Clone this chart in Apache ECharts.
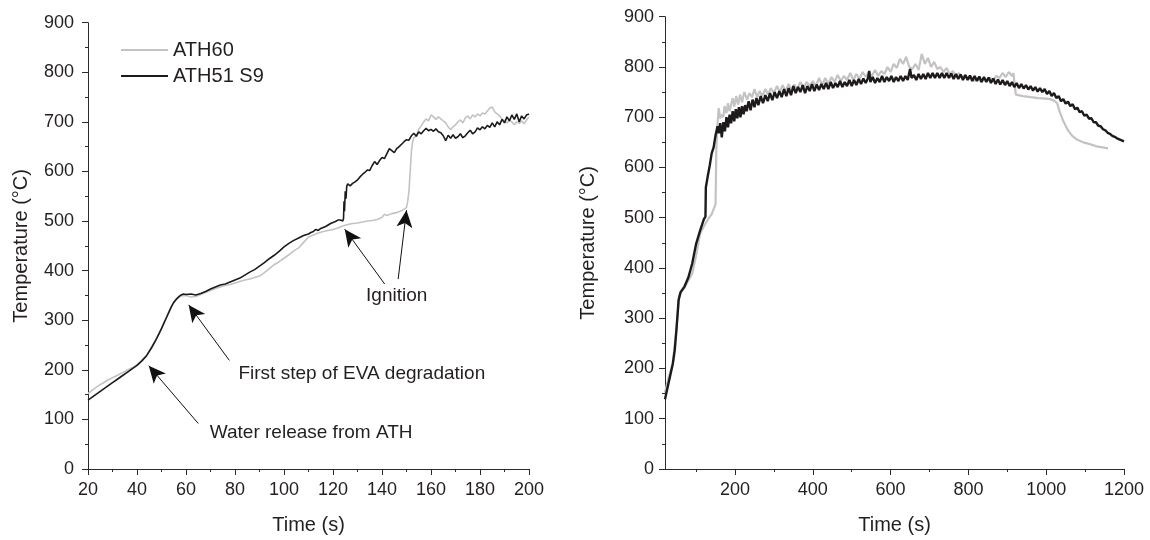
<!DOCTYPE html>
<html><head><meta charset="utf-8">
<script src="https://cdn.jsdelivr.net/npm/echarts@6/dist/echarts.min.js"></script>
<style>html,body{margin:0;padding:0;background:#fff}#c{width:1150px;height:540px}</style>
</head><body><div id="c"></div>
<script>
// ---------- data ----------
const seriesNames = ['ATH60', 'ATH51 S9'];

const leftATH60 = [[20,152],[22,160],[24,167],[26,173],[28,179],[30,184],[32,189],[34,194],[36,199],[38,204],[40,210],[42,219],[44,230],[46,246],[48,264],[50,284],[52,306],[54,328],[56,343],[58,349],[60,350],[62,347],[64,348],[66,352],[68,356],[70,360],[72,364],[74,367],[76,370],[78,372],[80,375],[82,378],[84,381],[86,383],[88,386],[90,389],[92,396],[94,404],[96,412],[98,418],[100,425],[102,432],[104,440],[106,446],[108,457],[110,468],[112,472],[114,476],[116,479],[118,481],[120,483],[122,486],[124,490],[126,493],[128,495],[130,496],[132,498],[134,500],[136,501],[138,503],[140,507],[141,514],[142,511],[144,515],[146,517],[148,521],[149,524],[150,527],[150.5,540],[151,560],[151.5,600],[152,640],[152.5,660],[153,668],[154,672],[155,685],[156,692],[157,700],[158,706],[159,702],[160,714],[161,710],[162,705],[163,710],[164,706],[165,702],[166,698],[167,690],[168,684],[169,690],[170,694],[171,700],[172,704],[173,698],[174,708],[175,712],[176,706],[177,714],[178,710],[179,716],[180,712],[181,718],[182,716],[183,722],[184,728],[185,730],[186,720],[187,716],[188,712],[189,706],[190,702],[191,698],[192,703],[193,700],[194,694],[195,700],[196,697],[197,702],[198,696],[199,704],[200,710]];

const leftATH51S9 = [[20,139],[22,146],[24,153],[26,160],[28,167],[30,174],[32,181],[34,188],[36,195],[38,202],[40,209],[42,218],[44,229],[46,245],[48,263],[50,283],[52,305],[54,327],[55,336],[56,342],[57,347],[58,351],[59,353],[60,352],[62,353],[64,351],[66,354],[68,358],[70,363],[72,367],[74,371],[76,373],[78,377],[80,381],[82,385],[84,391],[86,397],[88,402],[90,409],[92,416],[94,424],[96,431],[98,439],[100,448],[102,455],[104,461],[106,466],[108,471],[110,474],[111,477],[112,479],[113,483],[114,481],[115,485],[116,487],[117,489],[118,492],[119,495],[120,497],[121,499],[122,502],[123,502],[124,500],[124.3,505],[124.5,540],[124.7,520],[125,560],[125.3,545],[125.6,570],[126,575],[127,571],[128,576],[129,579],[130,583],[131,589],[132,594],[133,598],[134,603],[135,602],[136,612],[137,620],[138,614],[139,622],[140,628],[141,626],[142,636],[143,646],[144,642],[145,638],[146,646],[147,650],[148,655],[149,660],[150,664],[151,663],[152,672],[153,677],[154,671],[155,680],[156,676],[157,682],[158,687],[159,682],[160,685],[161,681],[162,686],[163,680],[164,678],[165,672],[166,662],[167,673],[168,667],[169,674],[170,667],[171,670],[172,676],[173,668],[174,672],[175,678],[176,683],[177,676],[178,680],[179,688],[180,684],[181,690],[182,686],[183,693],[184,689],[185,698],[186,690],[187,700],[188,694],[189,705],[190,698],[191,710],[192,702],[193,714],[194,705],[195,716],[196,700],[197,712],[198,706],[199,714],[200,716]];

const rightATH60 = [[20,152],[30,184],[40,210],[50,284],[56,343],[60,350],[70,360],[80,375],[90,389],[100,425],[110,468],[120,483],[130,496],[140,507],[150,527],[152,640],[155,685],[158,718],[162,698],[166,705],[170,700],[173,722],[178,708],[182,728],[186,712],[190,715],[194,738],[198,721],[203,742],[208,725],[213,745],[218,730],[224,750],[231,735],[237,748],[244,740],[250,756],[257,740],[263,752],[270,742],[278,756],[285,745],[292,758],[300,748],[308,762],[315,750],[322,764],[330,752],[338,766],[345,754],[352,765],[360,756],[368,770],[376,758],[384,770],[392,762],[400,772],[408,762],[416,778],[424,764],[432,778],[440,766],[448,780],[456,770],[464,784],[472,772],[480,782],[488,774],[496,788],[504,774],[512,786],[520,776],[528,790],[536,780],[544,790],[552,782],[560,794],[568,782],[576,792],[584,786],[592,800],[600,790],[608,806],[616,798],[624,816],[632,806],[640,820],[648,800],[656,796],[664,806],[672,794],[680,826],[688,806],[696,818],[704,800],[712,810],[720,796],[728,800],[736,790],[744,798],[752,786],[760,792],[768,780],[776,788],[784,778],[792,784],[800,776],[808,780],[816,772],[824,778],[832,770],[840,778],[848,772],[856,778],[864,774],[872,782],[880,778],[888,788],[896,780],[904,790],[912,782],[916,788],[918,770],[922,745],[940,742],[960,740],[980,738],[1000,737],[1010,736],[1020,733],[1028,728],[1035,710],[1043,694],[1055,675],[1067,663],[1080,655],[1095,650],[1110,647],[1130,642],[1145,640],[1159,638]];

const rightATH51S9 = [[20,139],[30,174],[40,209],[45,236],[50,283],[55,336],[60,352],[70,363],[80,381],[90,409],[100,448],[110,474],[120,497],[124,502],[125,560],[130,583],[135,604],[140,628],[145,640],[150,664],[155,682],[158,668],[162,688],[166,660],[170,690],[174,672],[178,700],[182,680],[186,705],[190,688],[194,712],[198,692],[202,716],[206,698],[210,720],[214,700],[218,722],[222,706],[226,724],[230,712],[235,732],[240,714],[245,735],[250,720],[255,738],[260,724],[266,742],[272,728],[278,744],[284,732],[290,748],[296,734],[302,750],[308,738],[314,752],[320,740],[326,756],[332,742],[338,758],[344,744],[350,762],[356,748],[362,760],[368,750],[374,764],[380,748],[386,762],[392,752],[398,766],[404,752],[410,765],[416,754],[422,766],[428,756],[434,768],[440,756],[446,770],[452,758],[458,768],[464,760],[470,772],[476,760],[482,770],[488,762],[494,774],[500,762],[506,774],[512,764],[518,776],[524,766],[530,777],[536,768],[542,778],[545,792],[548,770],[554,780],[560,768],[566,778],[572,770],[578,782],[584,770],[590,780],[596,772],[602,782],[608,770],[614,780],[620,772],[626,782],[632,772],[638,782],[644,774],[650,796],[654,778],[660,784],[666,774],[672,786],[678,776],[684,786],[690,776],[696,788],[702,778],[708,788],[714,778],[720,788],[726,778],[732,788],[738,778],[744,788],[750,778],[756,787],[762,776],[768,786],[774,776],[780,785],[786,774],[792,784],[798,774],[804,783],[810,772],[816,782],[822,772],[828,781],[834,770],[840,780],[846,770],[852,779],[858,768],[864,777],[870,766],[876,775],[882,765],[888,774],[894,764],[900,772],[906,762],[912,770],[918,760],[924,768],[930,758],[936,766],[942,757],[948,764],[954,755],[960,762],[966,753],[972,760],[978,751],[984,758],[990,750],[996,756],[1002,746],[1008,752],[1014,742],[1020,748],[1026,738],[1032,742],[1038,732],[1044,736],[1050,727],[1056,731],[1062,722],[1068,726],[1074,716],[1080,719],[1086,710],[1092,712],[1098,703],[1104,705],[1110,697],[1116,698],[1122,690],[1128,690],[1134,683],[1140,682],[1146,676],[1152,674],[1158,669],[1164,667],[1170,663],[1176,661],[1182,658],[1188,656],[1194,654],[1200,652]];

const yRange = [0, 900];
const yStep = 100;
const leftXRange = [20, 200];
const leftXStep = 20;
const rightXRange = [20, 1200];
const rightXLabels = [200, 400, 600, 800, 1000, 1200];
const rightXMinor = [100, 300, 500, 700, 900, 1100];
const xName = 'Time (s)';
const yName = 'Temperature (°C)';
const annotationTexts = ['Water release from ATH', 'First step of EVA degradation', 'Ignition'];

// ---------- styles ----------
const FF = '"Liberation Sans", Arial, sans-serif';
const TXT = '#231f20';
const AX = '#2a2a2a';
const GREY = '#c3c3c3';
const BLACK = '#1e1a1b';

const chart = echarts.init(document.getElementById('c'), null, {renderer: 'canvas'});
const plain = v => String(v);

function yAxisCfg(gi, gap, margin) {
  return {
    type: 'value', gridIndex: gi, min: yRange[0], max: yRange[1], interval: yStep,
    name: yName, nameLocation: 'middle', nameGap: gap,
    nameTextStyle: {fontSize: 20, color: TXT, fontFamily: FF},
    axisLine: {show: true, lineStyle: {color: AX, width: 1}},
    axisTick: {show: true, length: 6, inside: false, lineStyle: {color: AX}},
    minorTick: {show: true, splitNumber: 2, length: 3, lineStyle: {color: AX}},
    splitLine: {show: false}, minorSplitLine: {show: false},
    axisLabel: {fontSize: 18, color: TXT, fontFamily: FF, margin: margin, formatter: plain}
  };
}

const xLeft = {
  type: 'value', gridIndex: 0, min: leftXRange[0], max: leftXRange[1], interval: leftXStep,
  name: xName, nameLocation: 'middle', nameGap: 46,
  nameTextStyle: {fontSize: 20, color: TXT, fontFamily: FF},
  axisLine: {show: true, onZero: false, lineStyle: {color: AX, width: 1}},
  axisTick: {show: true, length: 6, lineStyle: {color: AX}},
  minorTick: {show: true, splitNumber: 2, length: 3, lineStyle: {color: AX}},
  splitLine: {show: false},
  axisLabel: {fontSize: 18, color: TXT, fontFamily: FF, margin: 12, formatter: plain}
};
const xRight = {
  type: 'value', gridIndex: 1, min: rightXRange[0], max: rightXRange[1],
  name: xName, nameLocation: 'middle', nameGap: 46,
  nameTextStyle: {fontSize: 20, color: TXT, fontFamily: FF},
  axisLine: {show: true, onZero: false, lineStyle: {color: AX, width: 1}},
  axisTick: {show: true, length: 6, customValues: rightXLabels, lineStyle: {color: AX}},
  splitLine: {show: false},
  axisLabel: {fontSize: 18, color: TXT, fontFamily: FF, margin: 12, customValues: rightXLabels, formatter: plain}
};
const xRightMinor = {
  type: 'value', gridIndex: 1, min: rightXRange[0], max: rightXRange[1], position: 'bottom',
  axisLine: {show: false, onZero: false},
  axisTick: {show: true, length: 3, customValues: rightXMinor, lineStyle: {color: AX}},
  axisLabel: {show: false}, splitLine: {show: false}
};

const arrowStyle = {color: '#111', width: 1, type: 'solid'};
function arrow(from, to) {
  return [{coord: from, symbol: 'none'}, {coord: to, symbol: 'arrow', symbolSize: [12, 17]}];
}
function note(coord, text, align) {
  return {coord: coord, symbol: 'rect', symbolSize: 0,
    label: {show: true, position: 'inside', formatter: text, align: align, verticalAlign: 'middle',
      fontSize: 19, color: TXT, fontFamily: FF}};
}

const option = {
  animation: false,
  backgroundColor: '#fff',
  textStyle: {fontFamily: FF},
  grid: [
    {left: 88, right: 621, top: 22.7, bottom: 69.5, containLabel: false},
    {left: 665, right: 26, top: 16.7, bottom: 69.5, containLabel: false}
  ],
  legend: {
    data: seriesNames, orient: 'vertical', left: 116, top: 35, itemWidth: 47, itemHeight: 2,
    itemGap: 6, icon: 'rect', selectedMode: false,
    textStyle: {fontSize: 20, color: TXT, fontFamily: FF, lineHeight: 20}
  },
  xAxis: [xLeft, xRight, xRightMinor],
  yAxis: [yAxisCfg(0, 57, 14), yAxisCfg(1, 67, 11)],
  series: [
    {name: seriesNames[0], type: 'line', xAxisIndex: 0, yAxisIndex: 0, data: leftATH60,
     showSymbol: false, symbol: 'none', lineStyle: {color: GREY, width: 1.6}, itemStyle: {color: GREY}, z: 2},
    {name: seriesNames[1], type: 'line', xAxisIndex: 0, yAxisIndex: 0, data: leftATH51S9,
     showSymbol: false, symbol: 'none', lineStyle: {color: BLACK, width: 1.6}, itemStyle: {color: BLACK}, z: 3,
     markLine: {silent: true, animation: false, label: {show: false}, lineStyle: arrowStyle,
       data: [
         arrow([65.0, 91.8], [44.8, 208.3]),
         arrow([77.7, 219], [61.1, 330.9]),
         arrow([141.1, 373], [124.8, 483.6]),
         arrow([146.6, 383], [150.0, 521.7])
       ]},
     markPoint: {silent: true, animation: false,
       data: [
         note([69.7, 73.7], annotationTexts[0], 'left'),
         note([81.4, 192], annotationTexts[1], 'left'),
         note([146.0, 349], annotationTexts[2], 'center')
       ]}
    },
    {name: seriesNames[0], type: 'line', xAxisIndex: 1, yAxisIndex: 1, data: rightATH60,
     showSymbol: false, symbol: 'none', lineStyle: {color: GREY, width: 2.2}, itemStyle: {color: GREY}, z: 2},
    {name: seriesNames[1], type: 'line', xAxisIndex: 1, yAxisIndex: 1, data: rightATH51S9,
     showSymbol: false, symbol: 'none', lineStyle: {color: BLACK, width: 2.4}, itemStyle: {color: BLACK}, z: 3}
  ]
};
chart.setOption(option);
</script>
</body></html>
